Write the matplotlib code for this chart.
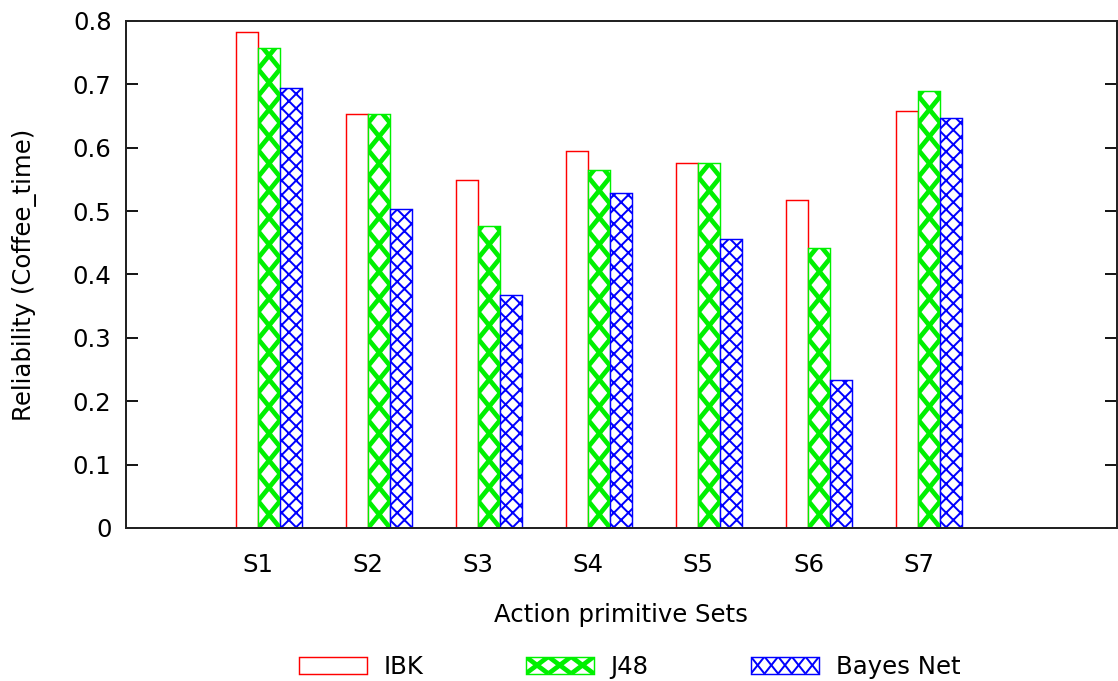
import numpy as np
import matplotlib
matplotlib.use("Agg")
import matplotlib.pyplot as plt
from matplotlib.collections import LineCollection
from matplotlib.patches import Patch, Rectangle
from matplotlib.legend_handler import HandlerBase

# data
sets = ["S1", "S2", "S3", "S4", "S5", "S6", "S7"]
ibk = [0.783, 0.653, 0.549, 0.595, 0.576, 0.518, 0.658]
j48 = [0.757, 0.653, 0.477, 0.565, 0.576, 0.441, 0.689]
bayes = [0.695, 0.503, 0.368, 0.529, 0.456, 0.234, 0.647]

GREEN = "#00f000"

plt.rcParams["font.family"] = ["DejaVu Sans"]
plt.rcParams["font.size"] = 13.5

dpi = 130
fig = plt.figure(figsize=(1118 / dpi, 681 / dpi), dpi=dpi)
ax = fig.add_axes([0.1127, 0.2247, 0.886, 0.7445])

x = np.arange(len(sets))
w = 0.2

ax.bar(x - w / 2, ibk, w, facecolor="none", edgecolor="red", linewidth=0.8)
b2 = ax.bar(x + w / 2, j48, w, facecolor="white", edgecolor=GREEN, linewidth=0.8)
with plt.rc_context({"hatch.linewidth": 1.1, "hatch.color": "blue"}):
    b3 = ax.bar(x + 3 * w / 2, bayes, w, facecolor="white", edgecolor="blue",
                hatch="xxx", linewidth=0.8)
for p in b3:
    try:
        p.set_hatch_linewidth(1.1)
    except AttributeError:
        pass

# gnuplot-like coarse cross pattern for J48, one cross per bar width
period = 0.0426
for p in b2:
    x0, bw, h = p.get_x(), p.get_width(), p.get_height()
    segs = []
    for k in range(-1, int(h / period) + 2):
        segs.append([(x0, k * period), (x0 + bw, (k + 1) * period)])
        segs.append([(x0, (k + 1) * period), (x0 + bw, k * period)])
    lc = LineCollection(segs, colors=GREEN, linewidths=2.6, zorder=p.get_zorder())
    ax.add_collection(lc)
    lc.set_clip_path(p)

ax.set_xlim(-1.2, 7.8)
ax.set_ylim(0, 0.8)
ax.set_yticks(np.arange(0, 0.81, 0.1))
ax.set_yticklabels(["0"] + [f"{v:.1f}" for v in np.arange(0.1, 0.81, 0.1)])
ax.set_xticks(x)
ax.set_xticklabels(sets)
ax.tick_params(axis="y", direction="in", length=6.5, width=1, right=True, pad=8)
ax.tick_params(axis="x", length=0, pad=14)
for s in ax.spines.values():
    s.set_linewidth(1.1)
    s.set_color("#222222")

ax.set_ylabel("Reliability (Coffee_time)", labelpad=20)
ax.set_xlabel("Action primitive Sets", labelpad=14)


class CrossHandler(HandlerBase):
    # legend key drawn as a row of crosses, like the gnuplot keys
    def __init__(self, n, lw, color):
        super().__init__()
        self.n, self.lw, self.color = n, lw, color

    def create_artists(self, legend, orig_handle, xdescent, ydescent,
                       width, height, fontsize, trans):
        x0, y0 = -xdescent, -ydescent
        rect = Rectangle((x0, y0), width, height, facecolor="white",
                         edgecolor=self.color, linewidth=0.8, transform=trans)
        cw = width / self.n
        segs = []
        for i in range(self.n):
            xa = x0 + i * cw
            segs.append([(xa, y0), (xa + cw, y0 + height)])
            segs.append([(xa, y0 + height), (xa + cw, y0)])
        lc = LineCollection(segs, colors=self.color, linewidths=self.lw, transform=trans)
        lc.set_clip_path(rect)
        return [rect, lc]


h_ibk = Patch(facecolor="none", edgecolor="red", linewidth=0.8, label="IBK")
h_j48 = Patch(facecolor="white", edgecolor=GREEN, label="J48")
h_bay = Patch(facecolor="white", edgecolor="blue", label="Bayes Net")

fig.legend(handles=[h_ibk, h_j48, h_bay], loc="center", bbox_to_anchor=(0.563, 0.021),
           ncol=3, frameon=False, handlelength=2.8, handleheight=0.7,
           handletextpad=0.68, columnspacing=4.2,
           handler_map={h_j48: CrossHandler(3, 2.6, GREEN),
                        h_bay: CrossHandler(5, 1.1, "blue")})

fig.savefig("out.png", dpi=dpi)
